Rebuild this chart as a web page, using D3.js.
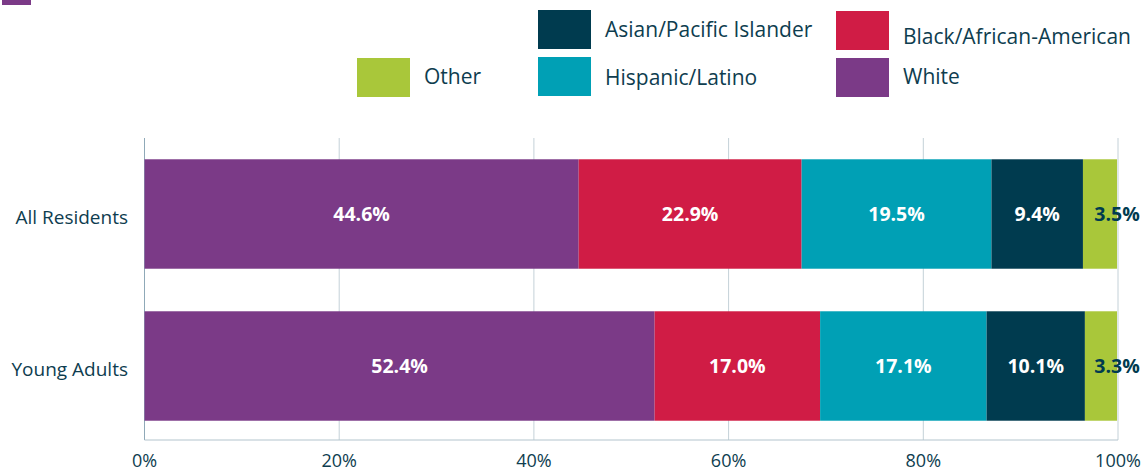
<!DOCTYPE html>
<html>
<head>
<meta charset="utf-8">
<script src="https://cdn.jsdelivr.net/npm/d3@7"></script>
<style>
  body { margin: 0; background: #fff; }
  svg { display: block; font-family: "Open Sans", "Noto Sans", sans-serif; }
</style>
</head>
<body>
<div id="chart"></div>
<script>
var width = 1147,
    height = 471

var groups = ["All Residents", "Young Adults"]
var series = ["White", "Black/African-American", "Hispanic/Latino", "Asian/Pacific Islander", "Other"]
var colors = ["#7b3a87", "#d01c45", "#00a0b5", "#003b4f", "#a9c73a"]
var allResidents = [44.6, 22.9, 19.5, 9.4, 3.5]
var youngAdults = [52.4, 17.0, 17.1, 10.1, 3.3]
var ticks = [0, 20, 40, 60, 80, 100]

var margin = ({top: 138, right: 29, bottom: 29, left: 144.5})

var svg = d3.select("#chart").append("svg")
    .attr("width", width)
    .attr("height", height)

var x = d3.scaleLinear()
    .domain([0, 100])
    .range([margin.left, 1118])

var y = d3.scaleBand()
    .domain(groups)
    .range([margin.top, 442])
    .paddingInner(0.28)
    .paddingOuter(0.14)

var color = d3.scaleOrdinal().domain(series).range(colors)

// stacked rows
var rows = [allResidents, youngAdults].map(function(vals, i) {
  var row = {group: groups[i]}
  series.forEach(function(s, j) { row[s] = vals[j] })
  return row
})
var stacked = d3.stack().keys(series)(rows)

// grid lines
svg.append("g")
  .selectAll("line")
  .data(ticks)
  .join("line")
    .attr("x1", d => x(d))
    .attr("x2", d => x(d))
    .attr("y1", margin.top)
    .attr("y2", 440)
    .attr("stroke", d => d == 0 ? "#8fa9b8" : "#c4d1d8")
    .attr("stroke-width", 1)

svg.append("line")
    .attr("x1", x(0))
    .attr("x2", x(100))
    .attr("y1", 440)
    .attr("y2", 440)
    .attr("stroke", "#b3c4cd")

// bars
var layer = svg.append("g")
  .selectAll("g")
  .data(stacked)
  .join("g")
    .attr("fill", d => color(d.key))

layer.selectAll("rect")
  .data(d => d)
  .join("rect")
    .attr("x", d => x(d[0]))
    .attr("width", d => x(d[1]) - x(d[0]))
    .attr("y", d => y(d.data.group))
    .attr("height", y.bandwidth())

// value labels
var labels = svg.append("g")
    .attr("font-size", "19.5px")
    .attr("font-weight", "bold")
    .attr("text-anchor", "middle")

stacked.forEach(function(s) {
  labels.selectAll(null)
    .data(s)
    .enter().append("text")
      .attr("x", d => s.key == "Other" ? x(d[1]) : (x(d[0]) + x(d[1])) / 2)
      .attr("y", d => y(d.data.group) + y.bandwidth() / 2)
      .attr("dy", "0.35em")
      .attr("fill", s.key == "Other" ? "#003b4f" : "#fff")
      .text(d => (d[1] - d[0]).toFixed(1) + "%")
})

// category labels
svg.append("g")
  .selectAll("text")
  .data(groups)
  .join("text")
    .attr("x", 128)
    .attr("y", d => y(d) + y.bandwidth() / 2 + 3)
    .attr("dy", "0.35em")
    .attr("text-anchor", "end")
    .attr("font-size", "19px")
    .attr("fill", "#0e3d4f")
    .text(d => d)

// tick labels
svg.append("g")
  .selectAll("text")
  .data(ticks)
  .join("text")
    .attr("x", d => x(d))
    .attr("y", 461)
    .attr("dy", "0.35em")
    .attr("text-anchor", "middle")
    .attr("font-size", "18px")
    .attr("fill", "#0e3d4f")
    .text(d => d + "%")

// legend
var legendItems = [
  {key: "Other", x: 357, y: 58, ty: 77},
  {key: "Asian/Pacific Islander", x: 538, y: 10, ty: 30},
  {key: "Hispanic/Latino", x: 538, y: 57, ty: 78},
  {key: "Black/African-American", x: 836, y: 11, ty: 37},
  {key: "White", x: 836, y: 58, ty: 77}
]

var legend = svg.append("g")
  .selectAll("g")
  .data(legendItems)
  .join("g")

legend.append("rect")
    .attr("x", d => d.x)
    .attr("y", d => d.y)
    .attr("width", 53)
    .attr("height", 39)
    .attr("fill", d => color(d.key))

legend.append("text")
    .attr("x", d => d.x + 67)
    .attr("y", d => d.ty)
    .attr("dy", "0.35em")
    .attr("font-size", "21px")
    .attr("fill", "#0e3d4f")
    .text(d => d.key)

// clipped swatch at top left
svg.append("rect")
    .attr("x", 2)
    .attr("y", -30)
    .attr("width", 29)
    .attr("height", 35)
    .attr("fill", color("White"))
</script>
</body>
</html>
